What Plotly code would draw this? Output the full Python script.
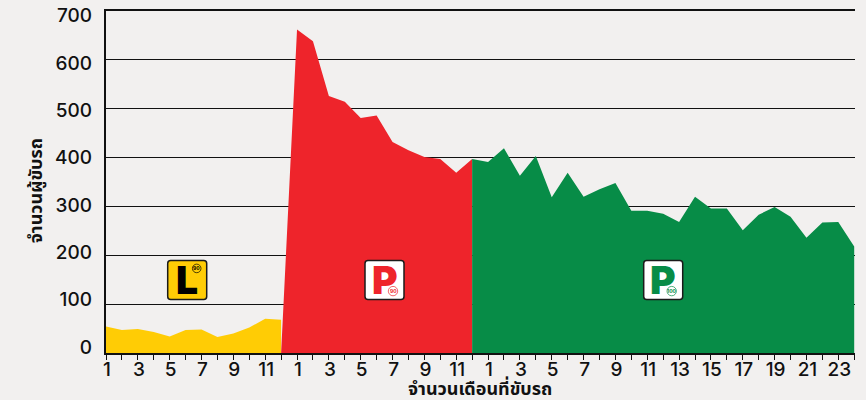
import plotly.graph_objects as go

# ---- data ----
learner_months = list(range(0, 12))
learner_drivers = [54, 47, 49, 43, 34, 47, 48, 33, 40, 52, 70, 68]

red_p_months = list(range(11, 24))
red_p_drivers = [0, 662, 638, 526, 514, 481, 486, 432, 415, 401, 397, 369, 397]

green_p_months = list(range(23, 48))
green_p_drivers = [397, 391, 419, 363, 403, 319, 369, 320, 335, 348, 291, 291, 285,
                   268, 320, 296, 296, 251, 283, 299, 279, 236, 267, 268, 218]

x_tick_labels = ["1", "", "3", "", "5", "", "7", "", "9", "", "11", "",
                 "1", "", "3", "", "5", "", "7", "", "9", "", "11", "",
                 "1", "", "3", "", "5", "", "7", "", "9", "", "11", "", "13", "",
                 "15", "", "17", "", "19", "", "21", "", "23", ""]
y_tick_values = [0, 100, 200, 300, 400, 500, 600, 700]
x_title = "จำนวนเดือนที่ขับรถ"
y_title = "จำนวนผู้ขับรถ"

YELLOW, RED, GREEN = "#ffcc05", "#ee242b", "#078c47"
BG = "#f2f0ef"
W, H = 866, 400
L, R, T, B = 106, 11, 10.5, 47
LATIN = "Inter, 'Noto Sans', sans-serif"
THAI = "'Noto Sans', 'Noto Sans Thai', 'Liberation Sans', sans-serif"

fig = go.Figure()
for xs, ys, c in [(learner_months, learner_drivers, YELLOW),
                  (red_p_months, red_p_drivers, RED),
                  (green_p_months, green_p_drivers, GREEN)]:
    fig.add_trace(go.Scatter(x=xs, y=ys, mode="lines", fill="tozeroy", fillcolor=c,
                             line=dict(width=0, color=c), showlegend=False, hoverinfo="x+y"))
# invisible trace carrying the hand-spaced y tick labels of the original
fig.add_trace(go.Scatter(x=[0], y=[0], yaxis="y2", mode="markers", marker=dict(opacity=0),
                         showlegend=False, hoverinfo="skip"))


def px(x):
    return (x - L) / (W - L - R)


def py(y):
    return (H - B - y) / (H - T - B)


def rounded(x0, y0, x1, y1, r=3):
    return (f"M{px(x0+r)},{py(y0)} L{px(x1-r)},{py(y0)} Q{px(x1)},{py(y0)} {px(x1)},{py(y0+r)} "
            f"L{px(x1)},{py(y1-r)} Q{px(x1)},{py(y1)} {px(x1-r)},{py(y1)} "
            f"L{px(x0+r)},{py(y1)} Q{px(x0)},{py(y1)} {px(x0)},{py(y1-r)} "
            f"L{px(x0)},{py(y0+r)} Q{px(x0)},{py(y0)} {px(x0+r)},{py(y0)} Z")


shapes, annots = [], []
badges = [(167.7, "L", YELLOW, "#000000", "90", "#000000"),
          (365, "P", "#ffffff", RED, "90", RED),
          (643.7, "P", "#ffffff", GREEN, "100", GREEN)]
for x0, letter, face, ink, num, ring in badges:
    shapes.append(dict(type="path", xref="paper", yref="paper", layer="above",
                       path=rounded(x0, 260.3, x0 + 39, 299.5),
                       fillcolor=face, line=dict(color="#1a1a1a", width=1.5)))
    cx, cy = (x0 + 29, 268.3) if letter == "L" else (x0 + 28, 291)
    rr = 4.3 if letter == "L" else 4.7
    shapes.append(dict(type="circle", xref="paper", yref="paper", layer="above",
                       x0=px(cx - rr), x1=px(cx + rr), y0=py(cy + rr), y1=py(cy - rr),
                       line=dict(color=ring, width=0.7), fillcolor="rgba(0,0,0,0)"))
    annots.append(dict(xref="paper", yref="paper", x=px(x0 + 19.5), y=py(279), text=letter,
                       showarrow=False, xanchor="center", yanchor="middle",
                       font=dict(family=LATIN, size=39, color=ink, weight=900)))
    annots.append(dict(xref="paper", yref="paper", x=px(cx), y=py(cy), text=num,
                       showarrow=False, xanchor="center", yanchor="middle",
                       font=dict(family=LATIN, size=5, color=ink, weight=700)))

annots.append(dict(xref="paper", yref="paper", x=px(35), y=py(191), text=y_title, textangle=-90,
                   showarrow=False, xanchor="center", yanchor="middle",
                   font=dict(family=THAI, size=18, color="#111111", weight=700)))
annots.append(dict(xref="paper", yref="paper", x=px(480), y=py(388), text=x_title,
                   showarrow=False, xanchor="center", yanchor="middle",
                   font=dict(family=THAI, size=18, color="#111111", weight=700)))

fig.update_layout(
    width=W, height=H, autosize=False,
    margin=dict(l=L, r=R, t=T, b=B, pad=0),
    paper_bgcolor=BG, plot_bgcolor=BG,
    showlegend=False, shapes=shapes, annotations=annots,
    font=dict(family=LATIN, color="#111111"),
    xaxis=dict(range=[0, 47.05], tickmode="array", tickvals=list(range(48)), ticktext=x_tick_labels,
               ticks="outside", ticklen=5, tickwidth=1.3, tickcolor="#111111",
               showgrid=False, zeroline=False, showline=True, linecolor="#111111", linewidth=2,
               mirror=True, tickangle=0, ticklabelshift=1, ticklabelstandoff=-7, automargin=False,
               tickfont=dict(family=LATIN, size=19, color="#111111", weight=500)),
    yaxis=dict(range=[0, 700], tickmode="array", tickvals=y_tick_values, showticklabels=False,
               ticks="", showgrid=True, gridcolor="#111111", gridwidth=1.2, zeroline=False,
               showline=True, linecolor="#111111", linewidth=2, automargin=False),
    yaxis2=dict(overlaying="y", side="left", range=[-12.65, 709.5], tickmode="array",
                tickvals=y_tick_values, showgrid=False, zeroline=False, showline=False, ticks="",
                ticklabelstandoff=13, automargin=False,
                tickfont=dict(family=LATIN, size=19, color="#111111", weight=500)),
)

fig.write_html("out.html", config=dict(displayModeBar=False),
               post_script=f"document.body.style.margin='0';document.body.style.background='{BG}';")
